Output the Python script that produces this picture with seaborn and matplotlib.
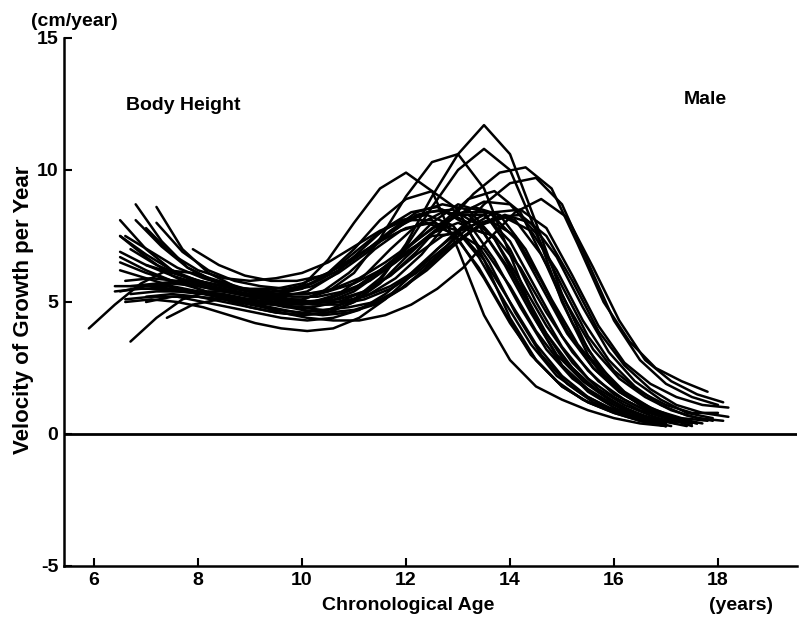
import numpy as np
import pandas as pd
import matplotlib
matplotlib.use("Agg")
import matplotlib.pyplot as plt
import seaborn as sns

# ---- data: velocity of growth (cm/year), sampled every half year from each boy's start age ----
step = 0.5
starts = [6.5, 6.5, 7.0, 6.5, 6.8, 7.0, 7.2, 6.5, 7.1, 6.6, 6.7, 6.5, 6.8, 7.2, 6.5,
          6.4, 7.9, 6.7, 7.4, 6.6, 7.0, 6.7, 7.0, 6.5, 6.6, 7.0, 6.6, 6.4, 7.2, 6.5,
          5.9, 6.7]

boy01 = [6.2, 5.9, 5.6, 5.4, 5.2, 5.1, 5.2, 5.6, 6.6, 8.0, 9.3, 9.9, 9.2, 7.0, 4.5, 2.8, 1.8, 1.3, 0.9, 0.6, 0.4, 0.3]
boy02 = [7.5, 6.7, 6.0, 5.5, 5.1, 4.8, 4.6, 4.5, 4.6, 5.0, 5.8, 7.2, 9.0, 10.6, 11.7, 10.6, 8.0, 5.3, 3.2, 1.9, 1.1, 0.6, 0.3]
boy03 = [5.0, 5.2, 5.2, 5.1, 4.9, 4.7, 4.6, 4.7, 5.1, 5.9, 7.1, 8.6, 10.0, 10.8, 10.0, 7.7, 5.0, 3.0, 1.8, 1.1, 0.7, 0.4]
boy04 = [8.1, 7.0, 6.2, 5.7, 5.4, 5.2, 5.1, 5.1, 5.4, 6.1, 7.4, 9.0, 10.3, 10.6, 9.3, 6.8, 4.3, 2.6, 1.6, 1.0, 0.6, 0.4]
boy05 = [8.7, 7.3, 6.3, 5.8, 5.5, 5.3, 5.1, 5.0, 5.0, 5.3, 5.9, 6.8, 8.0, 9.1, 9.9, 10.1, 9.3, 7.2, 5.0, 3.5, 2.5, 2.0, 1.6]
boy06 = [5.6, 5.5, 5.4, 5.3, 5.1, 4.9, 4.7, 4.6, 4.7, 5.0, 5.6, 6.5, 7.6, 8.7, 9.5, 9.7, 8.7, 6.5, 4.3, 2.8, 1.9, 1.4, 1.1]
boy07 = [8.6, 7.0, 6.1, 5.6, 5.3, 5.1, 5.0, 5.1, 5.4, 6.0, 6.9, 8.0, 8.9, 9.2, 8.4, 6.4, 4.2, 2.6, 1.6, 1.0, 0.6, 0.4]
boy08 = [5.4, 5.6, 5.7, 5.6, 5.4, 5.3, 5.3, 5.5, 6.1, 7.0, 8.1, 8.9, 9.2, 8.5, 6.6, 4.4, 2.8, 1.8, 1.2, 0.8, 0.5, 0.3]
boy09 = [5.5, 5.4, 5.3, 5.1, 4.9, 4.6, 4.4, 4.3, 4.3, 4.5, 4.9, 5.5, 6.3, 7.4, 8.4, 8.9, 8.2, 6.3, 4.3, 2.8, 2.0, 1.5, 1.2]
boy10 = [5.0, 5.1, 5.0, 4.8, 4.5, 4.2, 4.0, 3.9, 4.0, 4.4, 5.1, 6.0, 7.0, 7.8, 8.1, 7.5, 5.8, 3.9, 2.5, 1.6, 1.0, 0.6, 0.4]
boy11 = [7.0, 6.4, 6.0, 5.7, 5.5, 5.4, 5.4, 5.6, 6.1, 6.8, 7.6, 8.3, 8.5, 8.0, 6.6, 4.8, 3.2, 2.1, 1.4, 0.9, 0.6, 0.4]
boy12 = [6.7, 6.2, 5.8, 5.5, 5.2, 5.0, 4.9, 4.9, 5.1, 5.5, 6.2, 7.0, 7.8, 8.3, 8.3, 7.3, 5.5, 3.7, 2.4, 1.5, 1.0, 0.6, 0.4]
boy13 = [8.1, 7.1, 6.3, 5.8, 5.5, 5.3, 5.2, 5.2, 5.4, 5.8, 6.5, 7.3, 8.1, 8.6, 8.3, 7.0, 5.1, 3.4, 2.2, 1.4, 0.9, 0.6, 0.5]
boy14 = [8.0, 6.9, 6.2, 5.8, 5.6, 5.5, 5.7, 6.2, 6.9, 7.7, 8.4, 8.7, 8.5, 7.4, 5.6, 3.8, 2.5, 1.6, 1.0, 0.6, 0.4]
boy15 = [7.5, 6.8, 6.2, 5.8, 5.6, 5.5, 5.5, 5.7, 6.1, 6.7, 7.3, 7.8, 8.0, 7.7, 6.6, 5.0, 3.4, 2.2, 1.4, 0.9, 0.5, 0.3]
boy16 = [5.4, 5.5, 5.5, 5.4, 5.2, 5.0, 4.8, 4.6, 4.5, 4.6, 4.9, 5.5, 6.3, 7.2, 7.9, 8.2, 7.7, 6.2, 4.3, 2.8, 1.8, 1.1, 0.7, 0.5]
boy17 = [7.0, 6.4, 6.0, 5.8, 5.8, 6.0, 6.5, 7.2, 7.9, 8.4, 8.5, 7.9, 6.4, 4.6, 3.0, 2.0, 1.3, 0.8, 0.5, 0.3]
boy18 = [5.3, 5.4, 5.4, 5.3, 5.2, 5.0, 4.8, 4.8, 5.0, 5.4, 6.0, 6.8, 7.5, 7.8, 7.5, 6.3, 4.6, 3.1, 2.0, 1.3, 0.8, 0.5]
boy19 = [4.4, 4.9, 5.1, 5.1, 5.0, 4.8, 4.7, 4.8, 5.0, 5.5, 6.2, 7.1, 7.9, 8.3, 8.0, 6.7, 4.8, 3.1, 2.0, 1.3, 0.8, 0.6]
boy20 = [5.8, 5.9, 5.8, 5.6, 5.4, 5.2, 5.2, 5.4, 6.0, 6.9, 7.8, 8.4, 8.6, 8.0, 6.5, 4.6, 3.0, 1.9, 1.2, 0.8, 0.5, 0.3]
boy21 = [5.2, 5.3, 5.2, 5.0, 4.8, 4.6, 4.5, 4.6, 5.0, 5.7, 6.7, 7.6, 8.0, 7.6, 6.2, 4.4, 2.9, 1.9, 1.2, 0.7, 0.4]
boy22 = [5.6, 5.7, 5.7, 5.6, 5.4, 5.2, 5.0, 4.9, 4.9, 5.1, 5.5, 6.1, 6.9, 7.6, 8.2, 8.3, 7.5, 5.8, 3.9, 2.6, 1.7, 1.1, 0.8, 0.65]
boy23 = [6.4, 6.1, 5.8, 5.6, 5.4, 5.3, 5.3, 5.4, 5.7, 6.2, 6.8, 7.6, 8.3, 8.8, 8.7, 7.6, 5.6, 3.7, 2.4, 1.6, 1.1, 0.8, 0.8]
boy24 = [6.9, 6.4, 6.0, 5.7, 5.5, 5.3, 5.1, 5.0, 5.1, 5.5, 6.2, 6.9, 7.5, 7.6, 7.0, 5.6, 3.9, 2.6, 1.7, 1.1, 0.7, 0.5]
boy25 = [5.1, 5.2, 5.2, 5.0, 4.8, 4.6, 4.4, 4.3, 4.4, 4.7, 5.3, 6.1, 7.0, 7.9, 8.4, 8.1, 6.8, 4.9, 3.2, 2.1, 1.4, 0.9, 0.6, 0.5]
boy26 = [7.8, 6.8, 6.2, 5.9, 5.8, 5.9, 6.1, 6.5, 7.1, 7.7, 8.1, 8.1, 7.4, 5.9, 4.2, 2.8, 1.8, 1.2, 0.8, 0.5, 0.3]
boy27 = [7.5, 6.9, 6.3, 5.9, 5.6, 5.4, 5.3, 5.3, 5.5, 5.9, 6.5, 7.2, 7.9, 8.4, 8.4, 7.4, 5.6, 3.8, 2.5, 1.6, 1.0, 0.6, 0.4]
boy28 = [5.6, 5.6, 5.6, 5.4, 5.2, 5.0, 4.9, 5.0, 5.4, 6.1, 7.0, 7.7, 8.0, 7.6, 6.3, 4.6, 3.0, 2.0, 1.3, 0.9, 0.6, 0.4]
boy29 = [5.7, 5.8, 5.7, 5.5, 5.3, 5.1, 5.0, 5.0, 5.2, 5.6, 6.2, 7.0, 7.8, 8.4, 8.5, 7.8, 6.0, 4.1, 2.7, 1.9, 1.4, 1.1, 1.0]
boy30 = [6.5, 6.1, 5.8, 5.6, 5.4, 5.2, 5.0, 4.9, 5.0, 5.4, 6.1, 7.0, 8.0, 8.7, 8.4, 7.0, 5.0, 3.3, 2.1, 1.4, 0.9, 0.6, 0.4]
boy31 = [4.0, 4.9, 5.7, 6.2, 6.1, 5.8, 5.5, 5.4, 5.5, 5.9, 6.7, 7.5, 8.1, 8.3, 7.9, 6.7, 5.0, 3.4, 2.2, 1.5, 1.0, 0.7, 0.4]
boy32 = [3.5, 4.4, 5.1, 5.4, 5.4, 5.2, 5.0, 5.0, 5.3, 6.0, 7.0, 7.9, 8.4, 8.3, 7.4, 5.8, 4.1, 2.7, 1.7, 1.1, 0.7, 0.4]

curves = [boy01, boy02, boy03, boy04, boy05, boy06, boy07, boy08, boy09, boy10, boy11,
          boy12, boy13, boy14, boy15, boy16, boy17, boy18, boy19, boy20, boy21, boy22,
          boy23, boy24, boy25, boy26, boy27, boy28, boy29, boy30, boy31, boy32]

xticks = [6, 8, 10, 12, 14, 16, 18]
yticks = [-5, 0, 5, 10, 15]

rows = []
for i, (s, vals) in enumerate(zip(starts, curves)):
    for k, v in enumerate(vals):
        rows.append({"boy": i, "age": s + step * k, "velocity": v})
df = pd.DataFrame(rows)

# ---- style ----
sns.set_style("ticks")
plt.rcParams["font.family"] = ["Liberation Sans", "DejaVu Sans"]
plt.rcParams["font.weight"] = "bold"
plt.rcParams["text.color"] = "black"
plt.rcParams["axes.labelcolor"] = "black"
plt.rcParams["xtick.color"] = "black"
plt.rcParams["ytick.color"] = "black"

fig = plt.figure(figsize=(7.99, 6.30), dpi=100)
ax = fig.add_axes([0.080, 0.1016, 0.9175, 0.8381])

sns.lineplot(data=df, x="age", y="velocity", units="boy", estimator=None,
             color="black", linewidth=1.8, ax=ax, legend=False)

ax.axhline(0, color="black", linewidth=2.0)

ax.set_xlim(5.42, 19.52)
ax.set_ylim(-5, 15)
ax.set_xticks(xticks)
ax.set_yticks(yticks)
ax.set_yticklabels(["-5", "0", "5", "10", "15"])
ax.tick_params(axis="both", direction="in", length=6, width=1.5, labelsize=14,
               colors="black", pad=4)
for lab in ax.get_xticklabels() + ax.get_yticklabels():
    lab.set_fontweight("bold")
for side in ["top", "right"]:
    ax.spines[side].set_visible(False)
for side in ["left", "bottom"]:
    ax.spines[side].set_linewidth(1.8)
    ax.spines[side].set_color("black")

ax.set_xlabel("Chronological Age", fontsize=14, fontweight="bold")
ax.set_ylabel("Velocity of Growth per Year", fontsize=16, fontweight="bold")
ax.xaxis.set_label_coords((408 - 64) / 733, (566 - 597) / 528)
ax.yaxis.set_label_coords((34 - 64) / 733, (566 - 310) / 528)

fig.text(74 / 799, 1 - 22 / 630, "(cm/year)", ha="center", va="center", fontsize=14, fontweight="bold")
fig.text(741 / 799, 1 - 606 / 630, "(years)", ha="center", va="center", fontsize=14, fontweight="bold")
fig.text(183 / 799, 1 - 105 / 630, "Body Height", ha="center", va="center", fontsize=14, fontweight="bold")
fig.text(705 / 799, 1 - 100 / 630, "Male", ha="center", va="center", fontsize=14, fontweight="bold")

fig.savefig("out.png", dpi=100, facecolor="white")
